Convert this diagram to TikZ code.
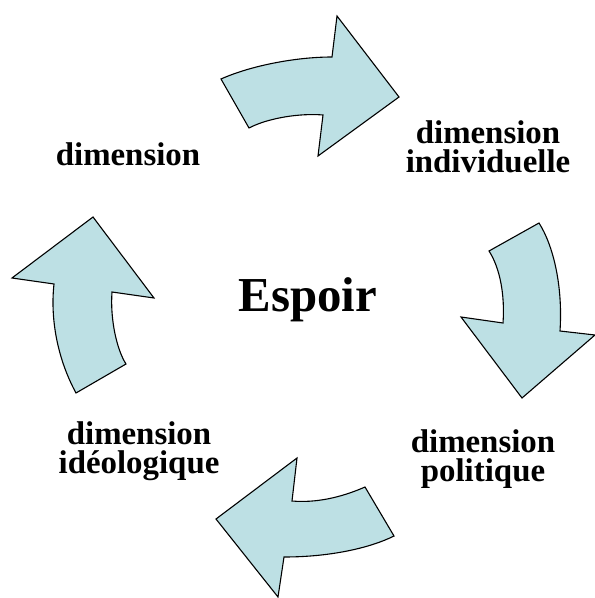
\documentclass[tikz,border=0pt]{standalone}
\usepackage{fontspec}
\setmainfont{Liberation Serif}
\definecolor{arrowfill}{RGB}{189,224,228}
\begin{document}
\begin{tikzpicture}[x=1bp,y=-1bp,
  bigarrow/.style={fill=arrowfill,draw=black,line width=1.1bp,line join=miter},
  label/.style={align=center,font=\fontsize{33}{29}\selectfont\bfseries,inner sep=0pt},
  centre/.style={font=\fontsize{49}{52}\selectfont\bfseries,inner sep=0pt}]
\useasboundingbox (0,0) rectangle (595,598);
% top arrow
\draw[bigarrow] (221,79) .. controls (250,66) and (295,57) .. (332,57)
  -- (337,16) -- (399,97) -- (318,156) -- (323,115)
  .. controls (300,113) and (268,118) .. (249,128) -- cycle;
% right arrow
\draw[bigarrow] (539,223) .. controls (553,245) and (563,285) .. (560,331)
  -- (595,335) -- (522,398) -- (461,317) -- (503,323)
  .. controls (505,295) and (500,268) .. (489,251) -- cycle;
% bottom arrow
\draw[bigarrow] (394,536) .. controls (370,548) and (330,557) .. (284,557)
  -- (278,597) -- (216,519) -- (297,458) -- (292,501)
  .. controls (315,503) and (340,498) .. (365,487) -- cycle;
% left arrow
\draw[bigarrow] (76,393) -- (126,364) .. controls (117,350) and (110,320) .. (112,292)
  -- (154,298) -- (93,217) -- (12,278) -- (54,284)
  .. controls (50,320) and (58,360) .. (76,393) -- cycle;
\node[centre] (c) at (308,300) {Espoir};
\node[label] (d1) at (128,154) {dimension};
\node[label] (d2) at (488,147) {dimension\\individuelle};
\node[label] (d3) at (483,459) {dimension\\politique};
\node[label] (d4) at (139,451) {dimension\\idéologique};
\end{tikzpicture}
\end{document}
